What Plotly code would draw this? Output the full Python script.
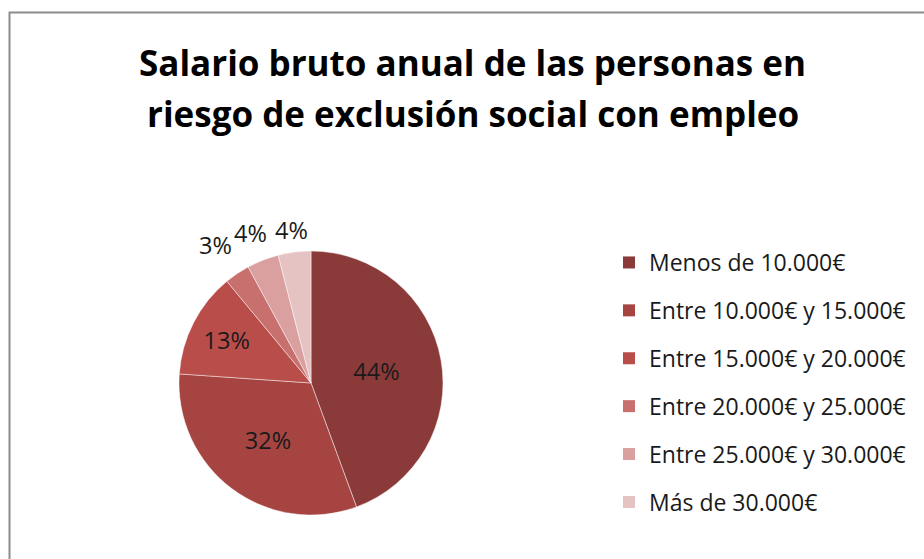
import math
import plotly.graph_objects as go

categories = ["Menos de 10.000€", "Entre 10.000€ y 15.000€", "Entre 15.000€ y 20.000€",
              "Entre 20.000€ y 25.000€", "Entre 25.000€ y 30.000€", "Más de 30.000€"]
values = [44.4, 31.7, 12.9, 3.1, 3.9, 4.0]
colors = ["#8B3A3A", "#A64442", "#B94D4A", "#C8706E", "#D9A09F", "#E5C3C3"]
outside = [False, False, False, True, True, True]
title_lines = ["Salario bruto anual de las personas en", "riesgo de exclusión social con empleo"]

FONT = "Open Sans"
W, H = 924, 559
# pie placement (pixels)
PX0, PX1, PY0, PY1 = 179, 443, 44, 308
cx, cy_top = (PX0 + PX1) / 2, H - (PY0 + PY1) / 2
R = (PX1 - PX0) / 2

total = sum(values)
texts = ["" if o else "%{percent:.0%}" for o in outside]

fig = go.Figure()
fig.add_trace(go.Pie(
    labels=categories, values=values, sort=False, direction="clockwise", rotation=0,
    marker=dict(colors=colors, line=dict(color="rgba(255,255,255,0.45)", width=1)),
    texttemplate=texts, textposition="inside",
    insidetextorientation="horizontal",
    textfont=dict(family=FONT, size=23.5, color="#1a1a1a"),
    showlegend=False, hoverinfo="label+percent",
    domain=dict(x=[PX0 / W, PX1 / W], y=[PY0 / H, PY1 / H]),
))
for cat, col in zip(categories, colors):
    fig.add_trace(go.Scatter(
        x=[None], y=[None], mode="markers", name=cat, legendgroup=cat,
        marker=dict(symbol="square", size=15, color=col),
    ))

annotations = []
# outside percentage labels, positioned from slice mid-angles
cum = 0.0
for v, o in zip(values, outside):
    mid = (cum + v / 2) / total * 2 * math.pi
    cum += v
    if not o:
        continue
    d = R + 22 + 30 * abs(math.sin(mid))
    px = cx + d * math.sin(mid)
    py = cy_top - d * math.cos(mid) + 4
    annotations.append(dict(x=px / W, y=1 - py / H, xref="paper", yref="paper",
                            text=f"{round(v / total * 100)}%", showarrow=False,
                            xanchor="center", yanchor="middle",
                            font=dict(family=FONT, size=23.5, color="#1a1a1a")))
for line, yc in zip(title_lines, [63, 113]):
    annotations.append(dict(x=473 / W, y=1 - yc / H, xref="paper", yref="paper",
                            text=line, showarrow=False, xanchor="center", yanchor="middle",
                            font=dict(family=FONT, size=35, color="black", weight="bold")))

fig.update_layout(
    width=W, height=H, margin=dict(l=0, r=0, t=0, b=0),
    paper_bgcolor="white", plot_bgcolor="white",
    xaxis=dict(visible=False), yaxis=dict(visible=False),
    legend=dict(x=609 / W, xanchor="left", y=1 - 241 / H, yanchor="top",
                font=dict(family=FONT, size=23, color="#1a1a1a"),
                tracegroupgap=15, itemsizing="constant", bgcolor="rgba(0,0,0,0)"),
    annotations=annotations,
    shapes=[dict(type="rect", xref="paper", yref="paper",
                 x0=9.5 / W, x1=1.05, y0=-0.05, y1=1 - 12.5 / H,
                 line=dict(color="#8c8c8c", width=2))],
)

fig.write_html("out.html")
